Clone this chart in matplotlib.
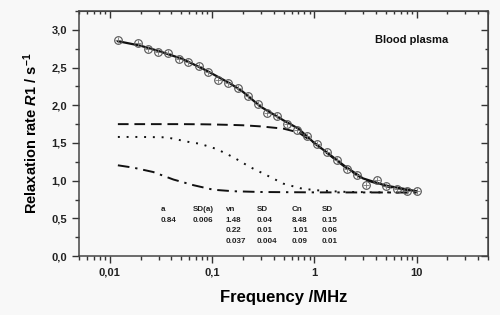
import numpy as np
import matplotlib.pyplot as plt
from matplotlib.ticker import LogLocator, FixedLocator, MultipleLocator, NullFormatter

plt.rcParams['font.family'] = ['Liberation Sans', 'DejaVu Sans']
plt.rcParams['mathtext.fontset'] = 'custom'
plt.rcParams['mathtext.rm'] = 'Liberation Sans:bold'
plt.rcParams['mathtext.it'] = 'Liberation Sans:bold:italic'
plt.rcParams['mathtext.bf'] = 'Liberation Sans:bold'

# measured points (frequency in MHz, R1 in 1/s)
freq = [0.012, 0.019, 0.0237, 0.0298, 0.0373, 0.0475, 0.0586, 0.075, 0.0906, 0.114,
        0.142, 0.181, 0.224, 0.28, 0.344, 0.43, 0.547, 0.685, 0.847, 1.06,
        1.33, 1.67, 2.09, 2.62, 3.24, 4.06, 5.08, 6.37, 7.98, 10.0]
r1 = [2.87, 2.82, 2.75, 2.71, 2.69, 2.61, 2.58, 2.52, 2.44, 2.34,
      2.29, 2.23, 2.12, 2.02, 1.90, 1.86, 1.755, 1.67, 1.59, 1.48,
      1.38, 1.27, 1.16, 1.07, 0.94, 1.005, 0.926, 0.895, 0.864, 0.864]

# fit curve and its components
fit_f = [0.012, 0.02, 0.03, 0.05, 0.08, 0.1, 0.15, 0.2, 0.3, 0.5, 0.7, 1.0,
         1.5, 2.0, 3.0, 5.0, 7.0, 10.0]
fit_total = [2.85, 2.79, 2.72, 2.62, 2.49, 2.42, 2.29, 2.18, 1.98, 1.80, 1.69, 1.50,
             1.32, 1.19, 1.03, 0.935, 0.90, 0.86]
fit_c1 = [1.75, 1.75, 1.75, 1.75, 1.748, 1.746, 1.74, 1.735, 1.72, 1.69, 1.64, 1.50,
          1.31, 1.18, 1.02, 0.925, 0.89, 0.855]

dot_f = [0.012, 0.02, 0.036, 0.061, 0.076, 0.111, 0.162, 0.236, 0.345, 0.5, 0.73,
         1.0, 1.5, 2.0, 3.0, 5.0, 10.0]
fit_c2 = [1.58, 1.58, 1.575, 1.51, 1.49, 1.42, 1.31, 1.18, 1.07, 0.96, 0.90,
          0.875, 0.86, 0.852, 0.848, 0.845, 0.843]

dd_f = [0.012, 0.017, 0.0266, 0.042, 0.066, 0.103, 0.162, 0.3, 1.0, 10.0]
fit_c3 = [1.204, 1.173, 1.115, 1.015, 0.94, 0.88, 0.86, 0.85, 0.845, 0.843]

table = [
    (161, ['a', '0.84']),
    (193, ['SD(a)', '0.006']),
    (225.5, ['vn', '1.48', '0.22', '0.037']),
    (257, ['SD', '0.04', '0.01', '0.004']),
    (292, ['Cn', '8.48', '1.01', '0.09']),
    (322, ['SD', '0.15', '0.06', '0.01']),
]

bg = '#f8f8f8'
fig = plt.figure(figsize=(5, 3.15), dpi=100, facecolor=bg)
ax = fig.add_axes([0.158, 0.187, 0.818, 0.778], facecolor=bg)

ax.plot(fit_f, fit_c1, color='#111111', lw=1.4, ls=(0, (5.5, 3)))
ax.plot(dot_f, fit_c2, color='#111111', lw=1.4, ls=(0, (1, 3.5)))
ax.plot(dd_f, fit_c3, color='#111111', lw=1.4, ls=(0, (6, 3, 1.2, 3)))
ax.plot(fit_f, fit_total, color='#111111', lw=1.6)
ax.plot(freq, r1, ls='none', marker='o', ms=5.5, mfc='none', mec='#555555', mew=0.8)
ax.plot(freq, r1, ls='none', marker='+', ms=5.0, mec='#777777', mew=0.6)

ax.set_xscale('log')
ax.set_xlim(0.005, 50)
ax.set_ylim(0, 3.25)

ax.xaxis.set_major_locator(FixedLocator([0.01, 0.1, 1, 10]))
ax.set_xticklabels(['0,01', '0,1', '1', '10'])
ax.xaxis.set_minor_locator(LogLocator(base=10, subs=np.arange(2, 10)))
ax.xaxis.set_minor_formatter(NullFormatter())
ax.yaxis.set_major_locator(MultipleLocator(0.5))
ax.yaxis.set_minor_locator(MultipleLocator(0.25))
ax.set_yticklabels([f'{v:.1f}'.replace('.', ',') for v in ax.get_yticks()])

ax.tick_params(which='both', direction='out', top=False, right=False, colors='#333333',
               labelcolor='#222222', width=1.0)
ax.tick_params(which='major', length=5, labelsize=8)
ax.tick_params(which='minor', length=3)
for lab in ax.get_xticklabels() + ax.get_yticklabels():
    lab.set_fontweight('bold')

# mirrored ticks pointing into the plot
sec_x = ax.secondary_xaxis('top')
sec_x.xaxis.set_major_locator(FixedLocator([0.01, 0.1, 1, 10]))
sec_x.xaxis.set_minor_locator(LogLocator(base=10, subs=np.arange(2, 10)))
sec_x.tick_params(which='both', direction='in', labeltop=False, colors='#333333', width=1.0)
sec_x.tick_params(which='major', length=5)
sec_x.tick_params(which='minor', length=2.5)
sec_y = ax.secondary_yaxis('right')
sec_y.yaxis.set_major_locator(MultipleLocator(0.5))
sec_y.yaxis.set_minor_locator(MultipleLocator(0.25))
sec_y.tick_params(which='both', direction='in', labelright=False, colors='#333333', width=1.0)
sec_y.tick_params(which='major', length=5)
sec_y.tick_params(which='minor', length=2.5)
sec_x.spines['top'].set_color('#444444')
sec_y.spines['right'].set_color('#444444')

for s in ax.spines.values():
    s.set_color('#444444')
    s.set_linewidth(1.1)

ax.set_xlabel('Frequency /MHz', fontsize=12, fontweight='bold', labelpad=9)
ax.set_ylabel(r'Relaxation rate $\mathit{R1}$ / s$^{-1}$', fontsize=10.5,
              fontweight='bold', labelpad=8)

# pixel coords -> figure fraction
fig.text(375 / 500, 1 - 40 / 315, 'Blood plasma', fontsize=8, fontweight='bold',
         va='center', ha='left', color='#111111')
for xpx, cells in table:
    for i, txt in enumerate(cells):
        ypx = 209.5 + i * 10.7
        fig.text(xpx / 500, 1 - ypx / 315, txt, fontsize=5.8, fontweight='bold',
                 ha='left', va='center', color='#222222')

fig.savefig('out.png', dpi=100, facecolor=bg)
